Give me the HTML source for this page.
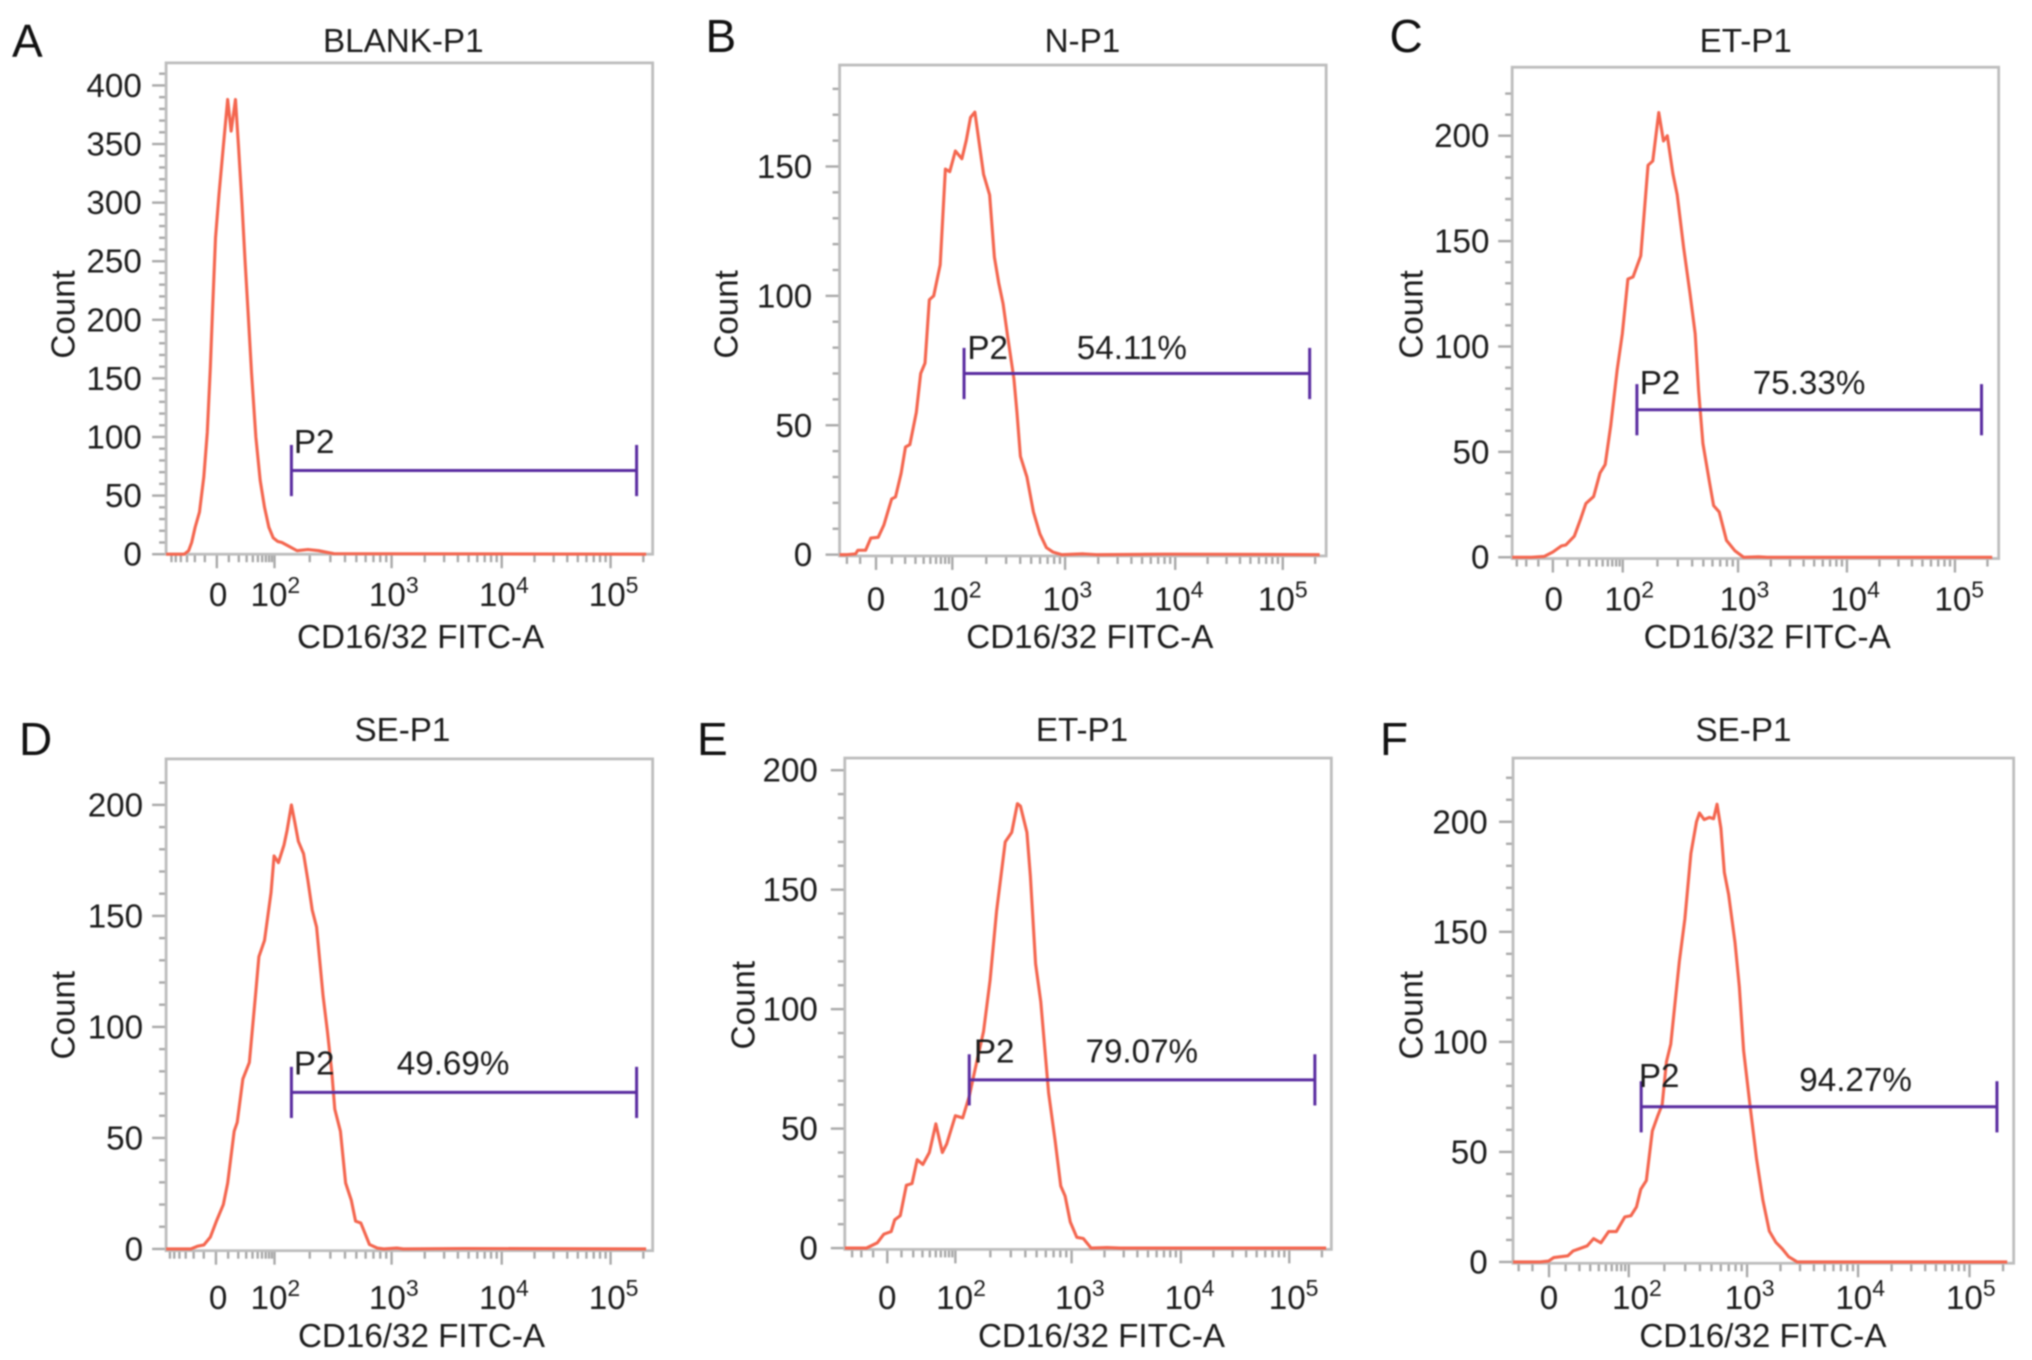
<!DOCTYPE html>
<html lang="en">
<head>
<meta charset="utf-8">
<title>CD16/32 FITC-A flow cytometry histograms</title>
<style>
html,body{margin:0;padding:0;background:#fff;width:2032px;height:1360px;overflow:hidden}
svg{display:block;filter:blur(0.7px)}
text{font-family:"Liberation Sans",sans-serif;font-size:33.2px;fill:#1c1c1c}
.letter{font-size:46px;fill:#111}
.mid{text-anchor:middle}
</style>
</head>
<body>
<svg id="figure" xmlns="http://www.w3.org/2000/svg" width="2032" height="1360" viewBox="0 0 2032 1360">
  <rect width="2032" height="1360" fill="#fff"/>
  <g id="marks"></g>

  <g>
    <text class="letter" x="12" y="57">A</text>
    <text class="letter" x="705.5" y="52">B</text>
    <text class="letter" x="1389.5" y="52">C</text>
    <text class="letter" x="19" y="755">D</text>
    <text class="letter" x="697" y="755">E</text>
    <text class="letter" x="1380" y="755">F</text>
  </g>

  <g>
    <text class="mid" x="403.3" y="52">BLANK-P1</text>
    <text class="mid" x="1082.4" y="52">N-P1</text>
    <text class="mid" x="1745.8" y="52">ET-P1</text>
    <text class="mid" x="402.4" y="741">SE-P1</text>
    <text class="mid" x="1082" y="741">ET-P1</text>
    <text class="mid" x="1743.5" y="741">SE-P1</text>
  </g>

  <g>
    <text class="mid" x="420.6" y="648">CD16/32 FITC-A</text>
    <text class="mid" x="1089.8" y="648">CD16/32 FITC-A</text>
    <text class="mid" x="1767.2" y="648">CD16/32 FITC-A</text>
    <text class="mid" x="421.5" y="1347">CD16/32 FITC-A</text>
    <text class="mid" x="1101.5" y="1347">CD16/32 FITC-A</text>
    <text class="mid" x="1762.9" y="1347">CD16/32 FITC-A</text>
  </g>

  <g>
    <text class="mid" transform="translate(74.6 314.4) rotate(-90)">Count</text>
    <text class="mid" transform="translate(737.7 314.4) rotate(-90)">Count</text>
    <text class="mid" transform="translate(1422.6 314.4) rotate(-90)">Count</text>
    <text class="mid" transform="translate(74.6 1015.2) rotate(-90)">Count</text>
    <text class="mid" transform="translate(754.6 1005.2) rotate(-90)">Count</text>
    <text class="mid" transform="translate(1422.6 1015.2) rotate(-90)">Count</text>
  </g>

  <g>
    <text x="293.9" y="453.2">P2</text>
    <text x="967.4" y="359">P2</text>
    <text x="1076.8" y="359">54.11%</text>
    <text x="1639.8" y="393.8">P2</text>
    <text x="1752.8" y="393.8">75.33%</text>
    <text x="293.9" y="1074.6">P2</text>
    <text x="396.8" y="1074.6">49.69%</text>
    <text x="973.9" y="1062.5">P2</text>
    <text x="1085.5" y="1062.5">79.07%</text>
    <text x="1638.9" y="1086.8">P2</text>
    <text x="1799.3" y="1091.1">94.27%</text>
  </g>
</svg>

<script>
// ---- Series: channel (x) and event count (y) for each histogram ----
const channelA = [383,425,435,442,450,460,470,478,485,490,497,505,515,525,533,543,550,558,565,572,580,590,600,610,620,630,640,650,665,685,710,735,755,770,850,1490];
const countA   = [0,0,3,10,23,36,66,104,159,207,270,307,348,388,361,388,348,299,251,207,155,100,63,40,23,14,11,10,7,3,4,3,1.5,0.5,0.4,0];

const channelB = [368,385,405,410,428,440,457,470,488,497,510,520,530,545,555,565,575,585,600,612,622,635,650,660,670,680,690,700,714,725,735,745,755,770,777,785,800,815,830,845,860,880,930,960,1120,1475];
const countB   = [0,0,0.3,1.7,1.7,6.4,6.7,11.4,21.5,22.3,31.5,41.6,42.5,55,70,74,98.5,100,112,149,148,156,153,160,169,171,159,147,139,115,105,97,85,68,55,38,30,16.5,8,2.7,1,0,0.3,0,0.2,0];

const channelC = [355,400,430,450,470,480,500,515,527,545,560,572,585,600,612,625,637,655,672,683,697,708,717,730,740,755,770,782,790,800,815,825,838,855,875,895,930,950,1475];
const countC   = [0,0,0.4,2.5,5.4,5.8,10,18.3,25.5,28.8,40,44,62.5,89,106,132,133,143,186,188,211,197.5,200,182,172,147,125,106,79,54,36,24.5,21.5,8,3,0,0.2,0,0];

const channelD = [383,440,455,470,485,500,515,525,540,547,560,575,590,597,610,625,632,642,655,662,672,680,688,700,710,720,730,745,755,765,772,785,797,810,820,832,852,870,885,915,930,1070,1490];
const countD   = [0,0,1.2,1.8,5.3,13,20,29.7,53,57,76.5,84,116,131.6,139,160.5,177,174,182,188.5,200,192,183.6,178,166,152.6,145,114,98,80,63,53,29.7,22,12.5,11.7,2,0.4,0,0.4,0,0.2,0];

const channelE = [380,430,455,470,487,495,508,522,535,547,560,575,590,605,615,635,652,667,680,700,715,730,750,765,778,785,800,808,820,832,850,865,878,888,900,915,930,948,985,1015,1490];
const countE   = [0,0,2.2,5.8,6.9,11.8,13.6,26.3,27,37,35,40,52,40,43.6,55.4,54.5,63.5,74.4,90.7,112,141,170,174,186,185,174,155.6,119,103,65,45,26,21.8,10.9,4.5,4,0,0.2,0,0];

const channelF = [357,420,440,452,485,497,510,530,545,562,580,598,618,632,645,655,668,682,695,705,715,725,745,758,772,785,792,803,815,825,833,842,850,860,875,885,895,910,925,940,955,970,985,1000,1020,1510];
const countF   = [0,0,0.4,2,2.8,5,5.9,7.3,10.6,8.7,13.8,13.8,20.5,21,25,33,37,59.5,66.6,71.5,91,99,136.5,156,185.6,200,204,201,202,201.4,208,197,177,167,145,125,96,71,47,28,14,9,6,2.4,0,0];

// ---- Axes: major tick values ----
const yTicksA = [0,50,100,150,200,250,300,350,400];
const yTicksB = [0,50,100,150];
const yTicksC = [0,50,100,150,200];
const yTicksD = [0,50,100,150,200];
const yTicksE = [0,50,100,150,200];
const yTicksF = [0,50,100,150,200];
const yMinorTop = [410,180,220,210,200,220];

// x tick labels: "0", then powers of ten
const xTickBases = ['0','10','10','10','10'];
const xTickExponents = ['','2','3','4','5'];

// Channel at which each labelled x tick (0, 10^2 ... 10^5) falls
const xTickChannelsA = [500,633,903,1157,1408];
const xTickChannelsB = [452,628,888,1142,1390];
const xTickChannelsC = [450,613,882,1136,1388];
const xTickChannelsD = [498,633,903,1157,1408];
const xTickChannelsE = [478,635,903,1155,1405];
const xTickChannelsF = [441,627,903,1162,1422];

// ---- P2 gates ----
const gateStart = [672,655,646,672,667,656];
const gateEnd   = [1468,1452,1450,1468,1464,1486];
const gateCount = [71.4,70,70,70.5,70.4,70.5];

// ---- Layout (not data): crop origin, scales, box, label placement ----
const SY = 2.306;
const layouts = [
  {id:'a',ox:0,   oy:0,  sx:2.306,l:383,r:1505,t:145,b:1278,base:1278,k:2.7025,yLab:327,xLabY:1398,xLab:[503,635,908,1162,1415]},
  {id:'b',ox:680, oy:0,  sx:2.306,l:368,r:1490,t:150,b:1282,base:1279,k:5.967, yLab:305,xLabY:1408,xLab:[452,638,893,1150,1390]},
  {id:'c',ox:1360,oy:0,  sx:2.333,l:355,r:1490,t:155,b:1288,base:1285,k:4.86,  yLab:302,xLabY:1408,xLab:[452,628,897,1155,1398]},
  {id:'d',ox:0,   oy:680,sx:2.306,l:383,r:1505,t:182,b:1316,base:1312,k:5.12,  yLab:330,xLabY:1451,xLab:[503,635,908,1162,1415]},
  {id:'e',ox:680, oy:680,sx:2.306,l:380,r:1502,t:180,b:1313,base:1310,k:5.51,  yLab:318,xLabY:1451,xLab:[478,648,922,1175,1415]},
  {id:'f',ox:1360,oy:680,sx:2.333,l:357,r:1525,t:180,b:1345,base:1342,k:5.075, yLab:298,xLabY:1451,xLab:[441,646,909,1167,1425]}
];
const channels = [channelA,channelB,channelC,channelD,channelE,channelF];
const counts = [countA,countB,countC,countD,countE,countF];
const yTicks = [yTicksA,yTicksB,yTicksC,yTicksD,yTicksE,yTicksF];
const xTickChannels = [xTickChannelsA,xTickChannelsB,xTickChannelsC,xTickChannelsD,xTickChannelsE,xTickChannelsF];

const NS = 'http://www.w3.org/2000/svg';
const marks = document.getElementById('marks');
const BOX = '#bdbdbd', TICK = '#a9a9a9', CURVE = '#f4664f', GATE = '#5a2ca0';

function tickLine(parent, x1, y1, x2, y2) {
  const ln = document.createElementNS(NS, 'line');
  ln.setAttribute('x1', x1);
  ln.setAttribute('y1', y1);
  ln.setAttribute('x2', x2);
  ln.setAttribute('y2', y2);
  ln.setAttribute('stroke', TICK);
  ln.setAttribute('stroke-width', 2.4);
  
  
  parent.appendChild(ln);
}

layouts.forEach(function (L, i) {
  const xScale = function (ch) { return L.ox + ch / L.sx; };
  const yScale = function (c) { return L.oy + (L.base - c * L.k) / SY; };
  const yPix = function (z) { return L.oy + z / SY; };
  const left = xScale(L.l), right = xScale(L.r), top = yPix(L.t), bottom = yPix(L.b);

  const g = document.createElementNS(NS, 'g');
  
  
  marks.appendChild(g);

  // y axis ticks
  for (let v = 0; v <= yMinorTop[i]; v += 10) {
    const major = yTicks[i].indexOf(v) >= 0;
    tickLine(g, left - (major ? 14 : 7), yScale(v), left, yScale(v));
  }
  yTicks[i].forEach(function (v) {
    const t = document.createElementNS(NS, 'text');
    t.setAttribute('x', xScale(L.yLab));
    t.setAttribute('y', yScale(v) + 11.5);
    t.setAttribute('text-anchor', 'end');
    
    
    t.textContent = String(v);
    g.appendChild(t);
  });

  // x axis ticks: biexponential display, anchored on the labelled ticks
  const tc = xTickChannels[i];
  tc.forEach(function (ch) { tickLine(g, xScale(ch), bottom, xScale(ch), bottom + 14); });
  const linSpan = tc[1] - tc[0];
  const norm = Math.asinh(100 / 20);
  for (let v = -90; v < 100; v += 10) {
    if (v === 0) continue;
    const ch = tc[0] + linSpan * Math.asinh(v / 20) / norm;
    if (ch > L.l + 4) tickLine(g, xScale(ch), bottom, xScale(ch), bottom + 8);
  }
  for (let d = 1; d <= 4; d++) {
    const span = d < 4 ? tc[d + 1] - tc[d] : tc[4] - tc[3];
    const maxM = d < 4 ? 9 : 2;
    for (let m = 2; m <= maxM; m++) {
      const ch = tc[d] + span * Math.log10(m);
      tickLine(g, xScale(ch), bottom, xScale(ch), bottom + 8);
    }
  }

  // x tick labels
  xTickBases.forEach(function (base, j) {
    const t = document.createElementNS(NS, 'text');
    t.setAttribute('x', xScale(L.xLab[j]));
    t.setAttribute('y', yPix(L.xLabY));
    t.setAttribute('text-anchor', 'middle');
    
    
    t.textContent = base;
    if (xTickExponents[j]) {
      const s = document.createElementNS(NS, 'tspan');
      s.setAttribute('dy', -13);
      s.style.fontSize = '23px';
      s.textContent = xTickExponents[j];
      t.appendChild(s);
    }
    g.appendChild(t);
  });

  // plot frame
  const box = document.createElementNS(NS, 'rect');
  box.setAttribute('x', left);
  box.setAttribute('y', top);
  box.setAttribute('width', right - left);
  box.setAttribute('height', bottom - top);
  box.setAttribute('fill', 'none');
  box.setAttribute('stroke', BOX);
  box.setAttribute('stroke-width', 2.8);
  
  
  g.appendChild(box);

  // histogram curve
  const pts = channels[i].map(function (ch, j) {
    return xScale(ch).toFixed(2) + ',' + yScale(counts[i][j]).toFixed(2);
  }).join(' ');
  const curve = document.createElementNS(NS, 'polyline');
  curve.setAttribute('points', pts);
  curve.setAttribute('fill', 'none');
  curve.setAttribute('stroke', CURVE);
  curve.setAttribute('stroke-width', 3.1);
  curve.setAttribute('stroke-linejoin', 'round');
  
  
  g.appendChild(curve);

  // P2 gate
  const gy = yScale(gateCount[i]);
  const gx1 = xScale(gateStart[i]), gx2 = xScale(gateEnd[i]);
  [[gx1, gy, gx2, gy], [gx1, gy - 25.6, gx1, gy + 25.6], [gx2, gy - 25.6, gx2, gy + 25.6]].forEach(function (s) {
    const ln = document.createElementNS(NS, 'line');
    ln.setAttribute('x1', s[0]);
    ln.setAttribute('y1', s[1]);
    ln.setAttribute('x2', s[2]);
    ln.setAttribute('y2', s[3]);
    ln.setAttribute('stroke', GATE);
    ln.setAttribute('stroke-width', 3);
    
    
    g.appendChild(ln);
  });
});
</script>
</body>
</html>
